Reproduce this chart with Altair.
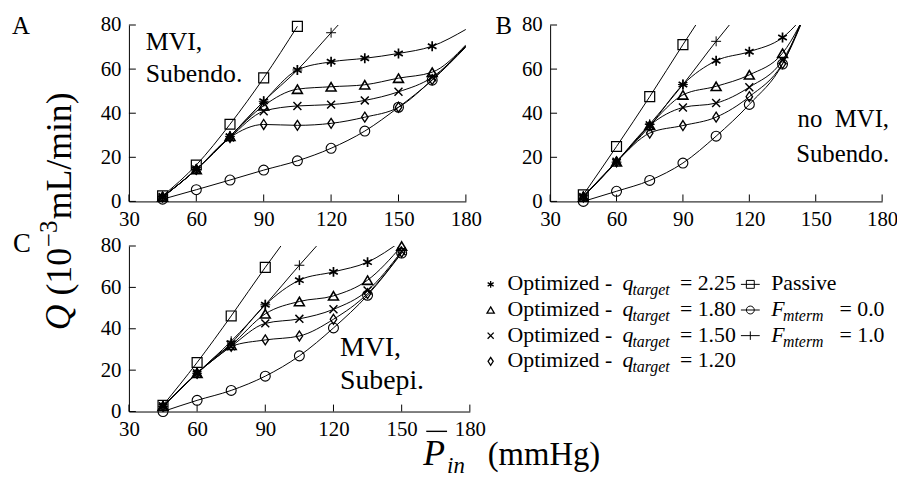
import altair as alt
import pandas as pd

FONT = "Liberation Serif"
W_A = 340
W_B = 335
W_C = 344
H_TOP = 178
H_BOT = 167

X_TICKS = [30, 60, 90, 120, 150, 180]
Y_TICKS = [0, 20, 40, 60, 80]

SERIES = ["s225", "s180", "s150", "s120", "passive", "f0", "f1"]
SHAPE_PATHS = [
    "M0,-1L0,1M-0.87,-0.5L0.87,0.5M-0.87,0.5L0.87,-0.5",
    "M0,-0.85L1,0.85L-1,0.85Z",
    "M-0.8,-0.8L0.8,0.8M-0.8,0.8L0.8,-0.8",
    "M0,-1L0.65,0L0,1L-0.65,0Z",
    "M-1,-1L1,-1L1,1L-1,1Z",
    "circle",
    "M0,-1L0,1M-1,0L1,0",
]
MARK_SIZES = [100, 100, 64, 110, 81, 100, 100]
MARK_WIDTHS = [1.7, 1, 1, 1, 1, 1, 1]

# ---- Panel A : MVI, Subendo.
A_P = [45, 60, 75, 90, 105, 120, 135, 150, 165, 180]
A_S225 = [2.0, 14.5, 29.5, 45.4, 59.6, 63.3, 64.9, 67.1, 70.4, 78.0]
A_S180 = [2.0, 14.5, 29.5, 43.4, 50.9, 52.0, 52.9, 55.9, 58.6, 71.0]
A_S150 = [2.0, 14.5, 29.0, 40.9, 43.3, 43.9, 45.8, 49.7, 56.3, 70.5]
A_S120 = [2.0, 14.5, 29.0, 34.9, 34.5, 35.4, 38.2, 42.7, 55.2, 70.5]
A_PASSIVE = [2.5, 16.5, 35.0, 56.0, 79.4, None, None, None, None, None]
A_F0 = [1.0, 5.3, 9.7, 14.2, 18.4, 24.1, 31.9, 42.7, 55.0, 70.0]
A_F1 = [2.0, 14.5, 29.5, 45.4, 59.6, 76.5, 93.0, None, None, None]
A_MARK_MAX = 165

# ---- Panel B : no MVI, Subendo.
B_P = [45, 60, 75, 90, 105, 120, 135, 150]
B_S225 = [2.0, 18.0, 34.1, 53.0, 63.8, 67.9, 74.3, 91.0]
B_S180 = [2.0, 18.0, 34.5, 48.3, 52.2, 57.4, 67.2, 95.0]
B_S150 = [2.0, 18.0, 34.5, 42.6, 44.6, 51.8, 64.0, 97.0]
B_S120 = [2.0, 18.0, 31.0, 34.4, 38.2, 47.5, 62.5, 98.0]
B_PASSIVE = [3.0, 24.9, 47.5, 71.1, 94.0, None, None, None]
B_F0 = [0.0, 4.6, 9.5, 17.4, 29.6, 44.0, 62.3, 100.0]
B_F1 = [2.5, 17.8, 35.0, 53.0, 72.6, 91.0, None, None]
B_MARK_MAX = 150

# ---- Panel C : MVI, Subepi.
C_P = [45, 60, 75, 90, 105, 120, 135, 150]
C_S225 = [2.5, 18.5, 33.0, 51.6, 63.5, 67.5, 72.2, 82.5]
C_S180 = [2.5, 18.5, 32.0, 47.2, 53.2, 55.9, 63.5, 80.0]
C_S150 = [2.5, 18.5, 31.5, 42.6, 44.8, 49.4, 58.5, 77.5]
C_S120 = [2.5, 18.5, 31.5, 34.6, 36.5, 44.6, 57.0, 77.0]
C_PASSIVE = [3.0, 23.7, 46.2, 69.7, 92.0, None, None, None]
C_F0 = [0.0, 5.4, 10.2, 17.1, 26.9, 40.4, 56.2, 76.6]
C_F1 = [2.5, 18.5, 34.0, 51.6, 70.7, 89.0, None, None]
C_MARK_MAX = 150

# ---- Legend
LEG1_KEYS = ["s225", "s180", "s150", "s120"]
LEG1_VALUES = ["= 2.25", "= 1.80", "= 1.50", "= 1.20"]
LEG1_PATHS = SHAPE_PATHS[:4]
LEG1_SIZES = [49, 64, 36, 70]
LEG2_KEYS = ["passive", "f0", "f1"]
LEG2_VALUES = ["", "= 0.0", "= 1.0"]
LEG2_PATHS = [
    "M-1,0L1,0M-0.42,-0.42L0.42,-0.42L0.42,0.42L-0.42,0.42Z",
    "M-1,0L1,0M0.42,0A0.42,0.42 0 1 1 -0.42,0A0.42,0.42 0 1 1 0.42,0Z",
    "M-1,0L1,0M0,-0.45L0,0.45",
]

ONE = pd.DataFrame({"k": [0]})


def frame(pressures, values):
    rows = []
    for key, vals in zip(SERIES, values):
        for p, q in zip(pressures, vals):
            if q is not None:
                rows.append({"series": key, "p": p, "q": q})
    return pd.DataFrame(rows)


def label(text, x, y, size, italic=False, angle=0, align="left", line_height=None):
    kw = dict(text=text, font=FONT, fontSize=size,
              fontStyle="italic" if italic else "normal",
              angle=angle, align=align, baseline="alphabetic", color="black")
    if line_height is not None:
        kw["lineBreak"] = "\n"
        kw["lineHeight"] = line_height
    return alt.Chart(ONE).mark_text(**kw).encode(x=alt.value(x), y=alt.value(y))


def panel(df, width, height, mark_max, extras):
    xscale = alt.Scale(domain=[30, 180], nice=False, zero=False)
    yscale = alt.Scale(domain=[0, 80], nice=False)
    common = dict(ticks=False, domainColor="black", domainWidth=1, labelFont=FONT,
                  labelFontSize=21, labelColor="black", labelFlush=False,
                  labelOverlap=False, grid=False, title=None)
    xaxis = alt.Axis(values=X_TICKS, labelPadding=7, **common)
    yaxis = alt.Axis(values=Y_TICKS, labelPadding=8, **common)
    X = alt.X("p:Q", scale=xscale, axis=xaxis)
    Y = alt.Y("q:Q", scale=yscale, axis=yaxis)
    lines = alt.Chart(df).mark_line(color="black", strokeWidth=1,
                                    interpolate="monotone", clip=True).encode(
        x=X, y=Y, detail="series:N")
    points = alt.Chart(df).transform_filter(
        f"datum.q <= 80.5 && datum.p <= {mark_max}"
    ).mark_point(filled=False, color="black", opacity=1).encode(
        x=X, y=Y,
        shape=alt.Shape("series:N", scale=alt.Scale(domain=SERIES, range=SHAPE_PATHS), legend=None),
        size=alt.Size("series:N", scale=alt.Scale(domain=SERIES, range=MARK_SIZES), legend=None),
        strokeWidth=alt.StrokeWidth("series:N", scale=alt.Scale(domain=SERIES, range=MARK_WIDTHS), legend=None),
    )
    xt = alt.Chart(pd.DataFrame({"p": X_TICKS})).mark_rule(color="black", strokeWidth=1).encode(
        x=X, y=alt.value(height), y2=alt.value(height - 7))
    yt = alt.Chart(pd.DataFrame({"q": Y_TICKS})).mark_rule(color="black", strokeWidth=1).encode(
        y=Y, x=alt.value(0), x2=alt.value(7))
    return alt.layer(lines, points, xt, yt, *extras).properties(width=width, height=height)


dfA = frame(A_P, [A_S225, A_S180, A_S150, A_S120, A_PASSIVE, A_F0, A_F1])
dfB = frame(B_P, [B_S225, B_S180, B_S150, B_S120, B_PASSIVE, B_F0, B_F1])
dfC = frame(C_P, [C_S225, C_S180, C_S150, C_S120, C_PASSIVE, C_F0, C_F1])

extrasA = [
    label("A", -118, 9, 25),
    label("MVI,\nSubendo.", 17, 25, 26, line_height=33),
    # y-axis title: Q (10^-3 mL/min), read bottom to top
    label("Q", -59, 308, 36, italic=True, angle=270),
    label("(", -58, 273, 36, angle=270),
    label("10", -58, 261, 36, angle=270),
    label("\u22123", -73, 224, 25, angle=270),
    label("mL/min)", -58, 196, 36, angle=270),
]
extrasB = [
    label("B", -55, 9, 25),
    label("no\u00a0\u00a0MVI,\nSubendo.", 342, 103, 25, align="right", line_height=35),
]
overline = alt.Chart(ONE).mark_rule(color="black", strokeWidth=1.4).encode(
    x=alt.value(300), x2=alt.value(321), y=alt.value(187))
extrasC = [
    label("C", -117, 6, 27),
    label("MVI,\nSubepi.", 213, 111, 28, line_height=33),
    label("P", 297, 221, 36, italic=True),
    overline,
    label("in", 321, 229, 23, italic=True),
    label("(mmHg)", 362, 221, 33),
]

panelA = panel(dfA, W_A, H_TOP, A_MARK_MAX, extrasA)
panelB = panel(dfB, W_B, H_TOP, B_MARK_MAX, extrasB)
panelC = panel(dfC, W_C, H_BOT, C_MARK_MAX, extrasC)

# ---- legend cell
leg1 = pd.DataFrame({"row": list(range(len(LEG1_KEYS))), "key1": LEG1_KEYS, "val": LEG1_VALUES})
leg2 = pd.DataFrame({"row": list(range(len(LEG2_KEYS))), "key2": LEG2_KEYS, "val": LEG2_VALUES})
RY = alt.Y("row:Q", scale=alt.Scale(domain=[0, 3], range=[44.7, 122.3]), axis=None)


def ltext(df, x, size, italic=False, dy=0, text=None, field=None):
    kw = dict(font=FONT, fontSize=size, fontStyle="italic" if italic else "normal",
              align="left", baseline="alphabetic", color="black", dy=dy)
    if text is not None:
        kw["text"] = text
    m = alt.Chart(df).mark_text(**kw)
    enc = dict(x=alt.value(x), y=RY)
    if field is not None:
        enc["text"] = alt.Text(field + ":N")
    return m.encode(**enc)


leg1_sym = alt.Chart(leg1).mark_point(filled=False, color="black", opacity=1, yOffset=-6, strokeWidth=1.3).encode(
    x=alt.value(-60), y=RY,
    shape=alt.Shape("key1:N", scale=alt.Scale(domain=LEG1_KEYS, range=LEG1_PATHS), legend=None),
    size=alt.Size("key1:N", scale=alt.Scale(domain=LEG1_KEYS, range=LEG1_SIZES), legend=None),
)
leg2_sym = alt.Chart(leg2).mark_point(filled=False, color="black", opacity=1, yOffset=-6, size=361, strokeWidth=1).encode(
    x=alt.value(202), y=RY,
    shape=alt.Shape("key2:N", scale=alt.Scale(domain=LEG2_KEYS, range=LEG2_PATHS), legend=None),
)
leg2_f = leg2[leg2["key2"] != "passive"]
leg2_p = leg2[leg2["key2"] == "passive"]

legend_cell = alt.layer(
    leg1_sym,
    ltext(leg1, -43, 22, text="Optimized -"),
    ltext(leg1, 73, 22, italic=True, text="q"),
    ltext(leg1, 83, 16, italic=True, dy=5, text="target"),
    ltext(leg1, 131, 22, field="val"),
    leg2_sym,
    ltext(leg2_p, 223, 22, text="Passive"),
    ltext(leg2_f, 223, 22, italic=True, text="F"),
    ltext(leg2_f, 235, 16, italic=True, dy=5, text="mterm"),
    ltext(leg2_f, 292, 22, field="val"),
).resolve_scale(shape="independent", size="independent").properties(width=W_B, height=H_BOT)

chart = alt.concat(
    panelA, panelB, panelC, legend_cell,
    columns=2, spacing={"row": 45, "column": 81}, bounds="flush",
).resolve_scale(
    x="independent", y="independent", shape="independent",
    size="independent", strokeWidth="independent",
).properties(
    autosize=alt.AutoSizeParams(type="none"),
    padding={"left": 122, "top": 15, "right": 775, "bottom": 464},
    background="white",
).configure_view(stroke=None)

chart.save("out.html", embed_options={"renderer": "svg", "actions": False})
